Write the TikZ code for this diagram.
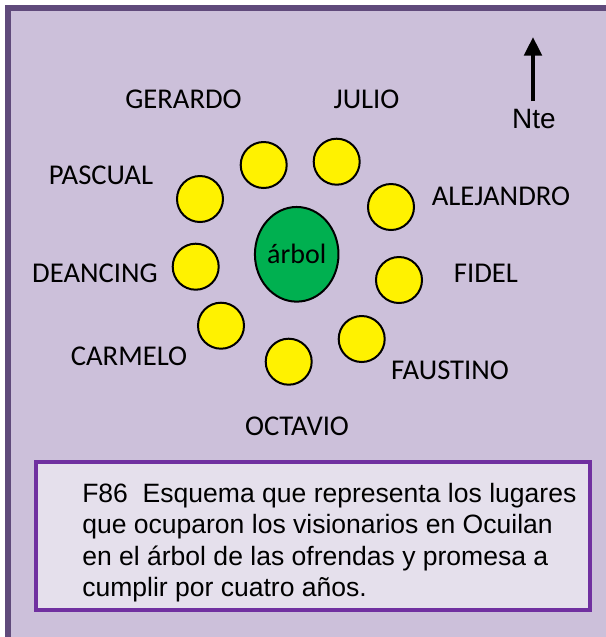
\documentclass[tikz,border=0pt]{standalone}
\usepackage{fontspec}
\setmainfont{Carlito}
\newfontfamily\arialfont{Liberation Sans}
\usetikzlibrary{shapes.geometric,arrows.meta}
\definecolor{lilac}{RGB}{204,192,218}
\definecolor{lilacedge}{RGB}{96,74,123}
\definecolor{notefill}{RGB}{229,224,236}
\definecolor{noteedge}{RGB}{112,48,160}
\definecolor{treegreen}{RGB}{0,176,80}
\begin{document}
\begin{tikzpicture}[x=0.75pt,y=0.75pt,yscale=-1,xscale=1,
  seat/.style={circle,draw=black,line width=1.5pt,fill=yellow,minimum size=34.5pt,inner sep=0pt},
  who/.style={inner sep=0pt,font=\fontsize{21.5}{26}\selectfont}]
\useasboundingbox (0,0) rectangle (606,637);
\clip (0,0) rectangle (606,637);
\draw [color=lilacedge, line width=4.5pt, fill=lilac] (8,8) rectangle (650,680);
% caption box
\draw [color=noteedge, line width=3.3pt, fill=notefill] (36,462) rectangle (590,610);
\draw (82,483) node [anchor=north west][inner sep=0pt][align=left][font=\arialfont\fontsize{19.9}{23.6}\selectfont] (caption) {F86\ \ Esquema que representa los lugares\\que ocuparon los visionarios en Ocuilan\\en el árbol de las ofrendas y promesa a\\cumplir por cuatro años.};
% north arrow
\coordinate (ntebase) at (533,101);
\coordinate (ntetip) at (533,37);
\draw [line width=3pt, -{Triangle[length=14pt,width=13pt]}] (ntebase) -- (ntetip);
\draw (534,119) node [inner sep=0pt][font=\arialfont\fontsize{21}{24}\selectfont] (nte) {Nte};
% tree
\draw (296.7,254.3) node [ellipse, draw=black, line width=1.5pt, fill=treegreen, minimum width=62pt, minimum height=71pt, inner sep=0pt, font=\fontsize{21}{25}\selectfont] (arbol) {\raisebox{-3pt}{árbol}};
% seats
\draw (263.7,165) node [seat] (s1) {};
\draw (336.7,161.7) node [seat] (s2) {};
\draw (200,199) node [seat] (s3) {};
\draw (391,207) node [seat] (s4) {};
\draw (195.7,266.7) node [seat] (s5) {};
\draw (399,280) node [seat] (s6) {};
\draw (221,325.7) node [seat] (s7) {};
\draw (361.7,339) node [seat] (s8) {};
\draw (288.7,361.7) node [seat] (s9) {};
% names
\draw (183.5,99) node [who] (gerardo) {GERARDO};
\draw (366.5,99) node [who] (julio) {JULIO};
\draw (101,175) node [who] (pascual) {PASCUAL};
\draw (501,196) node [who] (alejandro) {ALEJANDRO};
\draw (95,273) node [who] (deancing) {DEANCING};
\draw (486,273) node [who] (fidel) {FIDEL};
\draw (129,356) node [who] (carmelo) {CARMELO};
\draw (450,370) node [who] (faustino) {FAUSTINO};
\draw (297,426) node [who] (octavio) {OCTAVIO};
\end{tikzpicture}
\end{document}
